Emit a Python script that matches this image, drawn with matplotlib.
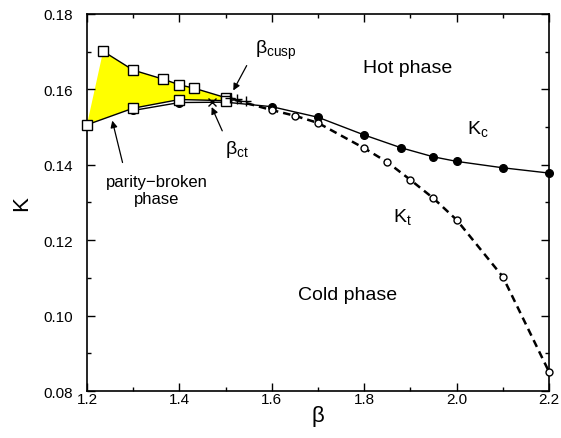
import matplotlib
matplotlib.use("Agg")
import matplotlib.pyplot as plt
from matplotlib.ticker import MultipleLocator, FormatStrFormatter

plt.rcParams['font.family'] = ['Liberation Sans', 'DejaVu Sans']

# parity-broken region boundaries (squares)
up_beta = [1.235, 1.30, 1.365, 1.40, 1.432, 1.50]
up_K = [0.1701, 0.1651, 0.1627, 0.1612, 0.1603, 0.1578]
lo_beta = [1.20, 1.30, 1.40, 1.50]
lo_K = [0.1506, 0.1550, 0.1573, 0.1570]

# K_c (filled circles)
kc_beta = [1.30, 1.40, 1.50, 1.60, 1.70, 1.80, 1.88, 1.95, 2.00, 2.10, 2.20]
kc_K = [0.1544, 0.1565, 0.1566, 0.1554, 0.1526, 0.1479, 0.1445, 0.1421, 0.1409, 0.1392, 0.1378]

# K_t (open circles)
kt_beta = [1.52, 1.60, 1.65, 1.70, 1.80, 1.85, 1.90, 1.95, 2.00, 2.10, 2.20]
kt_K = [0.1572, 0.1545, 0.1530, 0.1511, 0.1444, 0.1407, 0.1360, 0.1311, 0.1254, 0.1103, 0.0851]

# cusp-region markers
plus_beta = [1.51, 1.525, 1.545]
plus_K = [0.1576, 0.1574, 0.1570]
x_beta = [1.47]
x_K = [0.1566]

fig = plt.figure(figsize=(5.61, 4.39), dpi=100)
ax = fig.add_axes([0.155, 0.107, 0.8236, 0.859])

# yellow region
poly_b = [lo_beta[0]] + up_beta + [1.52] + lo_beta[::-1]
poly_K = [lo_K[0]] + up_K + [0.1575] + lo_K[::-1]
ax.fill(poly_b, poly_K, color='#ffff00', lw=0, zorder=1)

ax.plot(up_beta + [1.52], up_K + [0.1575], color='black', lw=1.0, zorder=3)
ax.plot(lo_beta + [1.52], lo_K + [0.1572], color='black', lw=1.0, zorder=3)
ax.plot(kc_beta, kc_K, color='black', lw=1.0, marker='o', ms=5.5,
        mfc='black', mec='black', zorder=4, clip_on=False)
ax.plot(kt_beta, kt_K, color='black', lw=1.8, ls=(0, (3, 2)), zorder=3)
ax.plot(kt_beta[1:], kt_K[1:], ls='none', marker='o', ms=5, mfc='white',
        mec='black', mew=1.0, zorder=5, clip_on=False)
ax.plot(up_beta, up_K, ls='none', marker='s', ms=6.5, mfc='white', mec='black',
        mew=1.0, zorder=6, clip_on=False)
ax.plot(lo_beta, lo_K, ls='none', marker='s', ms=6.5, mfc='white', mec='black',
        mew=1.0, zorder=6, clip_on=False)
ax.plot(plus_beta, plus_K, ls='none', marker='+', ms=7, mec='black', mew=1.0, zorder=6)
ax.plot(x_beta, x_K, ls='none', marker='x', ms=5.5, mec='black', mew=1.0, zorder=6)

ax.set_xlim(1.2, 2.2)
ax.set_ylim(0.08, 0.18)
ax.xaxis.set_major_locator(MultipleLocator(0.2))
ax.xaxis.set_minor_locator(MultipleLocator(0.1))
ax.yaxis.set_major_locator(MultipleLocator(0.02))
ax.yaxis.set_minor_locator(MultipleLocator(0.01))
ax.xaxis.set_major_formatter(FormatStrFormatter('%.1f'))
ax.yaxis.set_major_formatter(FormatStrFormatter('%.2f'))
ax.tick_params(which='both', direction='in', top=True, right=True, labelsize=11, width=1.0)
ax.tick_params(which='major', length=6)
ax.tick_params(which='minor', length=3)
ax.tick_params(axis='x', pad=1)
ax.tick_params(axis='y', pad=10)
for s in ax.spines.values():
    s.set_linewidth(1.2)

ax.set_xlabel('β', fontsize=16, labelpad=-1)
ax.set_ylabel('K', fontsize=16, labelpad=8)

ax.text(1.895, 0.1659, 'Hot phase', fontsize=14, ha='center', va='center')
ax.text(1.763, 0.1055, 'Cold phase', fontsize=14, ha='center', va='center')
ax.text(2.022, 0.1495, r'K$_\mathregular{c}$', fontsize=14, ha='left', va='center')
ax.text(1.862, 0.1262, r'K$_\mathregular{t}$', fontsize=14, ha='left', va='center')
ax.text(1.563, 0.1707, r'β$_\mathregular{cusp}$', fontsize=14, ha='left', va='center')
ax.text(1.499, 0.1442, r'β$_\mathregular{ct}$', fontsize=14, ha='left', va='center')
ax.text(1.351, 0.1333, 'parity\u2212broken\nphase', fontsize=12, ha='center',
        va='center', linespacing=1.1)

arrow = dict(arrowstyle='-|>', color='black', lw=0.9, mutation_scale=10,
             shrinkA=0, shrinkB=0)
ax.annotate('', xy=(1.5167, 0.1597), xytext=(1.5457, 0.1663), arrowprops=arrow)
ax.annotate('', xy=(1.4699, 0.1553), xytext=(1.4928, 0.1490), arrowprops=arrow)
ax.annotate('', xy=(1.2548, 0.1517), xytext=(1.277, 0.1406), arrowprops=arrow)

fig.savefig('out.png', dpi=100)
